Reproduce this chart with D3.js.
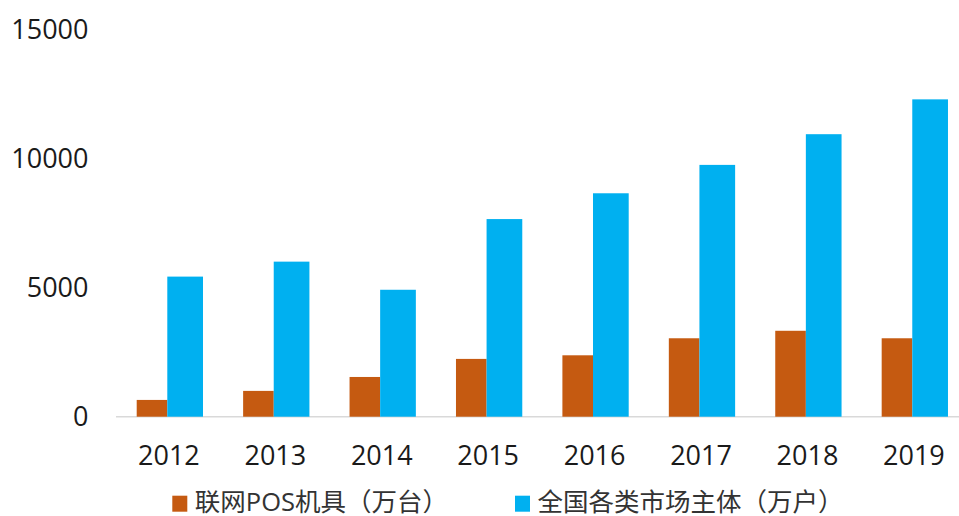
<!DOCTYPE html>
<html><head><meta charset="utf-8">
<script src="https://cdn.jsdelivr.net/npm/d3@7"></script>
<style>body{margin:0;background:#fff}svg{display:block}</style>
</head><body>
<svg id="c" width="959" height="516"></svg>
<script>
const categories = ["2012","2013","2014","2015","2016","2017","2018","2019"];
const posValues = [650, 1000, 1540, 2240, 2380, 3040, 3330, 3040];
const marketValues = [5430, 6010, 4920, 7660, 8660, 9760, 10950, 12300];
const seriesNames = ["联网POS机具（万台）", "全国各类市场主体（万户）"];
const yTicks = [0, 5000, 10000, 15000];
const colors = ["#C55A11", "#00B0F0"];

const svg = d3.select("#c");
const font = "'Open Sans','Noto Sans CJK SC',sans-serif";
const x = d3.scaleBand().domain(categories).range([116, 967.4]).paddingInner(0).paddingOuter(0);
const y = d3.scaleLinear().domain([0, 15000]).range([416.7, 29.7]);

const off = [20.7, 51.3]; // bar offsets within band
const widths = [30.6, 35.7];

// axis line
svg.append("line").attr("x1", 116).attr("x2", 959).attr("y1", y(0)).attr("y2", y(0))
  .attr("stroke", "#D9D9D9").attr("stroke-width", 1.5);

const series = [posValues, marketValues];
series.forEach((vals, si) => {
  svg.append("g").selectAll("rect").data(vals).enter().append("rect")
    .attr("x", (d, i) => x(categories[i]) + off[si])
    .attr("width", widths[si])
    .attr("y", d => y(d))
    .attr("height", d => y(0) - y(d))
    .attr("fill", colors[si]);
});

// y tick labels
svg.append("g").selectAll("text").data(yTicks).enter().append("text")
  .attr("x", 88.5).attr("y", d => y(d)).attr("dy", "0.36em")
  .attr("text-anchor", "end").attr("font-family", font).attr("font-size", 27)
  .attr("fill", "#1a1a1a").text(d => d);

// x labels
svg.append("g").selectAll("text").data(categories).enter().append("text")
  .attr("x", d => x(d) + x.bandwidth() / 2 - 0.3).attr("y", 455).attr("dy", "0.36em")
  .attr("text-anchor", "middle").attr("font-family", font).attr("font-size", 27)
  .attr("fill", "#1a1a1a").text(d => d);

// legend
const legX = [172.3, 515];
seriesNames.forEach((n, i) => {
  svg.append("rect").attr("x", legX[i]).attr("y", 495.7).attr("width", 15).attr("height", 16).attr("fill", colors[i]);
  svg.append("text").attr("x", legX[i] + 22.5).attr("y", 501.5).attr("dy", "0.36em")
    .attr("font-family", font).attr("font-size", 25.5).attr("fill", "#333333").text(n);
});
</script>
</body></html>
